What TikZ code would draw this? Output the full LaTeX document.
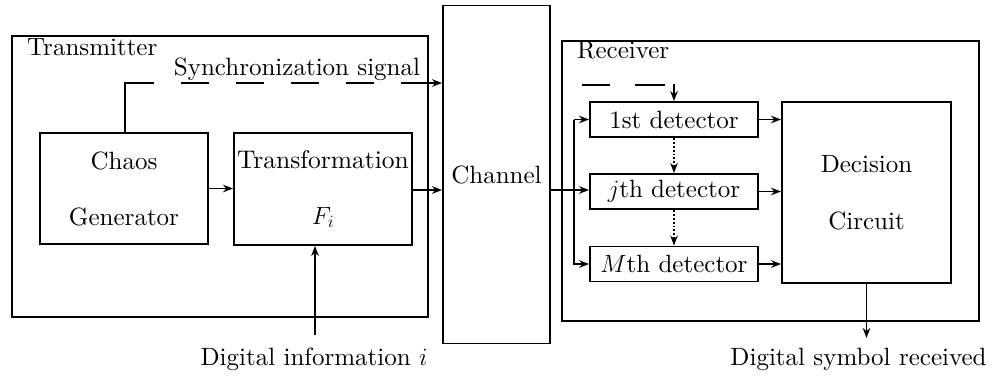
\documentclass[tikz,border=0pt]{standalone}
\usepackage{fontspec}
\setmainfont{lmroman10-regular.otf}[ItalicFont=lmroman10-italic.otf,BoldFont=lmroman10-bold.otf]
\usetikzlibrary{arrows.meta,calc}

\tikzset{
  every picture/.style={x=1pt,y=-1pt},
  base/.style={font=\fontsize{25}{30}\selectfont},
  frame/.style={draw,line width=1.9pt,rectangle,inner sep=0pt},
  block/.style={frame,base,align=center,font=\fontsize{25}{56}\selectfont},
  detbox/.style={frame,base,minimum width=168pt,minimum height=35pt},
  wire/.style={line width=1.9pt},
  arr/.style={wire,-{Stealth[length=10pt,width=7.5pt]}},
  lbl/.style={base,inner sep=0pt},
}

\begin{document}
\begin{tikzpicture}
  \useasboundingbox (0,0) rectangle (1001,376);

  % enclosing frames
  \node[frame,minimum width=416pt,minimum height=281pt] (tx) at (220,176.5) {};
  \node[frame,minimum width=417pt,minimum height=280pt] (rx) at (770.5,181) {};
  \node[lbl,anchor=base west] (txlbl) at (27,55) {Transmitter};
  \node[lbl,anchor=base west] (rxlbl) at (577,58) {Receiver};

  % transmitter blocks
  \node[block,minimum width=168pt,minimum height=111pt] (chaos) at (124,188.5) {Chaos\\Generator};
  \node[block,minimum width=178pt,minimum height=112pt,font=\fontsize{25.5}{56}\selectfont] (trans) at (323,189) {Transformation\\$F_i$};

  % channel
  \node[frame,base,minimum width=107pt,minimum height=338pt] (channel) at (496.5,174.5) {Channel};

  % receiver blocks
  \node[detbox] (det1) at (674,119.5) {1st detector};
  \node[detbox] (detj) at (674,191.5) {$j$th detector};
  \node[detbox] (detM) at (674,264) {$M$th detector};
  \node[frame,base,align=center,font=\fontsize{25}{57}\selectfont,minimum width=169pt,minimum height=181pt] (dec) at (866.5,192.5) {Decision\\Circuit};

  % outer labels
  \node[lbl,anchor=base] (info) at (314,365) {Digital information $i$};
  \node[lbl,anchor=base] (sym) at (858.5,365) {Digital symbol received};
  \node[lbl,anchor=base] (synclbl) at (297,75) {Synchronization signal};

  % free ends
  \coordinate (infoin) at (315,335);
  \coordinate (syncin) at (channel.west |- 0,83);
  \coordinate (rsync) at (582,85);
  \coordinate (bus) at (574,190);
  \coordinate (symout) at (dec.south |- 0,338);

  % transmitter connections
  \draw[arr] (chaos.east) -- (chaos.east -| trans.west);
  \draw[arr] (trans.east |- 0,190) -- (channel.west |- 0,190);
  \draw[arr] (infoin) -- (infoin |- trans.south);
  \draw[arr,dash pattern=on 78pt off 27pt on 28pt off 27pt on 28pt off 27pt on 28pt off 27pt on 28pt off 27pt on 60pt]
    (chaos.north -| 125,0) |- (syncin);

  % receiver connections
  \draw[wire] (channel.east |- bus) -- (bus);
  \draw[arr] (bus) -- (detj.west |- bus);
  \draw[arr] (bus |- det1.west) |- (det1.west);
  \draw[arr] (bus) |- (detM.west);
  \draw[wire] (bus) -- (bus |- det1.west);

  \draw[arr,dash pattern=on 28pt off 25pt on 30pt off 8pt on 40pt]
    (rsync) -- (rsync -| det1.north) -- (det1.north);
  \draw[arr,dotted] (det1.south) -- (detj.north);
  \draw[arr,dotted] (detj.south) -- (detM.north);

  \draw[arr] (det1.east) -- (det1.east -| dec.west);
  \draw[arr] (detj.east) -- (detj.east -| dec.west);
  \draw[arr] (detM.east) -- (detM.east -| dec.west);
  \draw[arr] (dec.south -| symout) -- (symout);
\end{tikzpicture}
\end{document}
